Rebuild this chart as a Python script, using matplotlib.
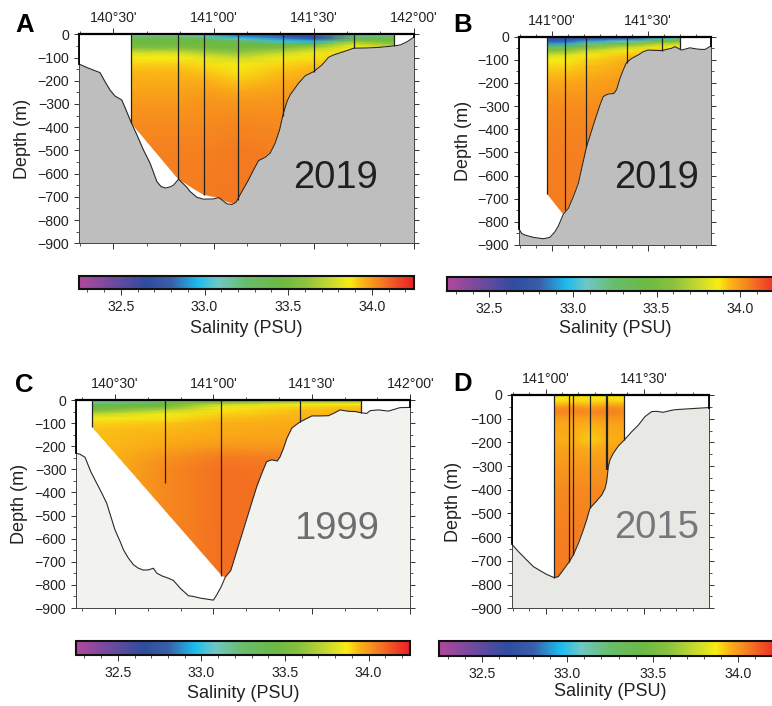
import matplotlib
matplotlib.use("Agg")
import matplotlib.pyplot as plt
from matplotlib.colors import LinearSegmentedColormap, Normalize
from matplotlib.cm import ScalarMappable
from matplotlib.patches import Polygon

plt.rcParams['font.family'] = ['Liberation Sans', 'DejaVu Sans']

W, H = 772, 706

# colour scale
cmap_vals = [32.25, 32.4, 32.65, 32.8, 32.96, 33.08, 33.25, 33.45, 33.6, 33.75, 33.87, 33.95, 34.05, 34.18, 34.25]
cmap_cols = ['#b0489c', '#7f4a9e', '#2f4c9f', '#3a5ea9', '#1cbcee', '#6fc7c5', '#68bd6a', '#6cb944',
             '#8cc13f', '#c6d92f', '#f7ec13', '#fbb116', '#f58020', '#ef3e26', '#ec2027']
cb_ticks = [32.5, 33.0, 33.5, 34.0]
cb_minor = [32.3, 32.4, 32.6, 32.7, 32.8, 32.9, 33.1, 33.2, 33.3, 33.4, 33.6, 33.7, 33.8, 33.9, 34.1, 34.2]

depth_ticks = [0, -100, -200, -300, -400, -500, -600, -700, -800, -900]
depth_minor = [-50, -150, -250, -350, -450, -550, -650, -750, -850]
levels = [0, 6, 12, 20, 30, 45, 60, 80, 100, 130, 160, 200, 250, 300, 400, 500, 900]

# panel A
a_bathy_lon = [140.328, 140.37, 140.433, 140.458, 140.483, 140.508, 140.542, 140.563, 140.587, 140.617, 140.65,
               140.683, 140.717, 140.738, 140.762, 140.783, 140.80, 140.825, 140.847, 140.867, 140.883, 140.917,
               140.95, 141.0, 141.025, 141.042, 141.067, 141.092, 141.113, 141.142, 141.175, 141.2, 141.225, 141.258,
               141.283, 141.308, 141.33, 141.347, 141.367, 141.383, 141.425, 141.458, 141.5, 141.542, 141.575, 141.6,
               141.65, 141.7, 141.767, 141.833, 141.9, 141.933, 141.967, 142.0]
a_bathy_dep = [-128, -144, -165, -204, -240, -266, -283, -326, -376, -433, -498, -555, -634, -656, -662, -657, -650,
               -624, -642, -659, -677, -702, -710, -709, -703, -713, -730, -733, -723, -677, -627, -584, -544, -530,
               -512, -469, -412, -347, -290, -261, -211, -179, -161, -132, -99, -89, -75, -60, -59, -56, -50, -46,
               -32, -13]
a_wedge_lon = [140.587, 140.825, 140.917, 140.95, 141.0, 141.025, 141.067, 141.10]
a_wedge_dep = [-383, -624, -675, -692, -702, -703, -722, -730]
a_st = [140.587, 140.825, 140.95, 141.12, 141.345, 141.5, 141.7, 141.9]
a_st_end = [-383, -624, -692, -713, -350, -161, -60, -50]
a_sal = [
    [33.05, 33.1, 33.3, 33.42, 33.45, 33.48, 33.58, 33.78, 33.87, 33.91, 33.94, 33.96, 33.98, 34.0, 34.03, 34.05, 34.06],
    [33.05, 33.12, 33.32, 33.43, 33.45, 33.48, 33.58, 33.78, 33.87, 33.91, 33.94, 33.96, 33.98, 34.0, 34.03, 34.05, 34.06],
    [32.95, 33.0, 33.15, 33.4, 33.44, 33.47, 33.5, 33.68, 33.82, 33.89, 33.92, 33.96, 33.99, 34.01, 34.03, 34.05, 34.07],
    [32.8, 32.85, 32.92, 33.05, 33.35, 33.44, 33.47, 33.62, 33.75, 33.86, 33.88, 33.92, 33.97, 34.01, 34.04, 34.06, 34.07],
    [32.72, 32.75, 32.8, 32.88, 33.0, 33.42, 33.55, 33.75, 33.85, 33.9, 33.93, 33.96, 33.99, 34.01, 34.03, 34.05, 34.06],
    [32.62, 32.62, 32.65, 32.7, 32.95, 33.42, 33.7, 33.84, 33.88, 33.92, 33.95, 33.98, 34.0, 34.02, 34.03, 34.05, 34.06],
    [32.85, 33.0, 33.25, 33.45, 33.6, 33.8, 33.87, 33.9, 33.92, 33.95, 33.97, 33.98, 34.0, 34.02, 34.03, 34.05, 34.06],
    [33.0, 33.1, 33.35, 33.43, 33.47, 33.62, 33.78, 33.9, 33.92, 33.95, 33.97, 33.98, 34.0, 34.02, 34.03, 34.05, 34.06],
]

# panel B
b_bathy_lon = [140.83, 140.844, 140.861, 140.905, 140.957, 140.991, 141.017, 141.035, 141.061, 141.087, 141.113,
               141.139, 141.182, 141.226, 141.252, 141.269, 141.283, 141.295, 141.325, 141.339, 141.356, 141.373,
               141.39, 141.417, 141.451, 141.477, 141.503, 141.573, 141.625, 141.642, 141.677, 141.72, 141.755,
               141.781, 141.799, 141.83]
b_bathy_dep = [-831, -850, -857, -867, -873, -867, -843, -818, -767, -742, -692, -634, -475, -360, -295, -259, -252,
               -248, -245, -228, -180, -144, -112, -94, -79, -65, -58, -60, -50, -43, -58, -48, -53, -55, -55, -40]
b_wedge_lon = [140.977, 141.061]
b_wedge_dep = [-680, -767]
b_st = [140.977, 141.071, 141.18, 141.392, 141.573, 141.668]
b_st_end = [-680, -750, -475, -112, -60, -52]
b_sal = [
    [32.7, 32.7, 32.72, 32.78, 32.9, 33.3, 33.55, 33.78, 33.87, 33.9, 33.93, 33.97, 34.0, 34.02, 34.04, 34.05, 34.06],
    [32.7, 32.7, 32.72, 32.78, 32.92, 33.32, 33.58, 33.8, 33.87, 33.9, 33.93, 33.97, 34.0, 34.02, 34.04, 34.05, 34.06],
    [32.7, 32.72, 32.8, 32.92, 33.2, 33.5, 33.72, 33.86, 33.9, 33.93, 33.95, 33.98, 34.0, 34.02, 34.04, 34.05, 34.06],
    [32.72, 32.78, 32.85, 33.1, 33.4, 33.72, 33.86, 33.92, 33.95, 33.97, 33.98, 34.0, 34.01, 34.02, 34.04, 34.05, 34.06],
    [32.75, 32.95, 33.2, 33.45, 33.68, 33.86, 33.92, 33.95, 33.97, 33.98, 33.99, 34.0, 34.01, 34.02, 34.04, 34.05, 34.06],
    [32.9, 33.1, 33.3, 33.5, 33.72, 33.87, 33.92, 33.95, 33.97, 33.98, 33.99, 34.0, 34.01, 34.02, 34.04, 34.05, 34.06],
]

# panel C
c_bathy_lon = [140.302, 140.323, 140.348, 140.377, 140.407, 140.433, 140.458, 140.5, 140.526, 140.543, 140.568, 140.594,
               140.619, 140.644, 140.67, 140.695, 140.712, 140.738, 140.771, 140.797, 140.831, 140.873, 140.898, 140.932,
               141.0, 141.017, 141.04, 141.06, 141.088, 141.152, 141.186, 141.22, 141.246, 141.27, 141.296, 141.325,
               141.339, 141.356, 141.373, 141.398, 141.423, 141.442, 141.5, 141.542, 141.584, 141.61, 141.643, 141.686,
               141.72, 141.748, 141.779, 141.796, 141.838, 141.889, 141.948, 142.0]
c_bathy_dep = [-230, -235, -248, -310, -360, -403, -447, -562, -612, -648, -684, -713, -728, -736, -735, -728, -749,
               -761, -771, -781, -814, -847, -850, -857, -866, -843, -807, -767, -738, -562, -468, -375, -317, -267,
               -259, -264, -245, -209, -166, -122, -105, -94, -69, -69, -68, -58, -43, -49, -50, -55, -58, -46, -43,
               -48, -33, -32]
c_wedge_lon = [140.385, 141.045]
c_wedge_dep = [-115, -763]
c_st = [140.385, 140.756, 141.04, 141.442, 141.75]
c_st_end = [-115, -360, -763, -94, -55]
c_sal = [
    [33.0, 33.0, 33.15, 33.4, 33.45, 33.5, 33.72, 33.86, 33.9, 33.93, 33.93, 33.93, 33.93, 33.93, 33.93, 33.93, 33.93],
    [33.05, 33.2, 33.4, 33.45, 33.5, 33.72, 33.85, 33.88, 33.92, 33.94, 33.95, 33.97, 34.01, 34.03, 34.03, 34.03, 34.04],
    [33.4, 33.45, 33.55, 33.75, 33.85, 33.88, 33.9, 33.93, 33.95, 33.96, 33.97, 34.0, 34.06, 34.08, 34.08, 34.08, 34.08],
    [33.45, 33.55, 33.72, 33.86, 33.9, 33.93, 33.94, 33.95, 33.96, 33.97, 33.98, 34.0, 34.05, 34.07, 34.08, 34.08, 34.08],
    [33.45, 33.6, 33.75, 33.87, 33.92, 33.94, 33.95, 33.96, 33.97, 33.98, 33.99, 34.0, 34.05, 34.07, 34.08, 34.08, 34.08],
]

# panel D
d_levels = [0, 10, 20, 30, 40, 50, 60, 75, 90, 120, 150, 190, 230, 300, 400, 550, 900]
d_bathy_lon = [140.828, 140.861, 140.903, 140.937, 140.971, 141.005, 141.044, 141.065, 141.09, 141.121, 141.141, 141.167,
               141.192, 141.209, 141.226, 141.257, 141.286, 141.303, 141.311, 141.32, 141.328, 141.345, 141.371, 141.401,
               141.439, 141.473, 141.507, 141.541, 141.566, 141.6, 141.634, 141.66, 141.736, 141.832]
d_bathy_dep = [-630, -661, -696, -724, -741, -757, -771, -766, -738, -703, -675, -626, -570, -527, -478, -450, -422,
               -394, -366, -302, -274, -246, -215, -190, -155, -127, -91, -70, -69, -73, -66, -62, -58, -53]
d_wedge_lon = []
d_wedge_dep = []
d_st = [141.044, 141.121, 141.139, 141.228, 141.315, 141.401]
d_st_end = [-771, -703, -675, -478, -316, -190]
d_sal = [
    [33.86, 33.85, 33.87, 33.9, 33.93, 33.99, 34.03, 34.04, 34.01, 33.97, 33.97, 33.96, 33.98, 34.0, 34.03, 34.05, 34.07],
    [33.89, 33.88, 33.89, 33.91, 33.95, 34.0, 34.03, 34.03, 34.0, 33.97, 33.96, 33.95, 33.98, 34.0, 34.03, 34.05, 34.07],
    [33.9, 33.89, 33.89, 33.91, 33.95, 34.0, 34.03, 34.03, 34.0, 33.97, 33.96, 33.95, 33.98, 34.0, 34.03, 34.05, 34.07],
    [33.89, 33.88, 33.88, 33.9, 33.93, 33.97, 34.0, 34.03, 34.0, 33.95, 33.93, 33.91, 33.96, 34.0, 34.03, 34.05, 34.07],
    [33.9, 33.88, 33.89, 33.92, 33.96, 34.01, 34.04, 34.05, 34.02, 33.98, 33.96, 33.95, 33.98, 34.0, 34.03, 34.05, 34.07],
    [33.9, 33.88, 33.88, 33.91, 33.95, 33.99, 34.01, 34.03, 34.01, 33.98, 33.97, 33.96, 33.98, 34.0, 34.03, 34.05, 34.07],
]

cmap = LinearSegmentedColormap.from_list(
    'sal', [((v - 32.25) / 2.0, c) for v, c in zip(cmap_vals, cmap_cols)], N=512)
norm = Normalize(32.25, 34.25)

fig = plt.figure(figsize=(W / 100, H / 100), dpi=100)


def px_axes(left, top, right, bottom):
    return fig.add_axes([left / W, 1 - bottom / H, (right - left) / W, (bottom - top) / H])


def panel(box, label_x, xlim, lon_ticks, lon_labels, lon_minor, bathy_lon, bathy_dep, fill, wedge_lon, wedge_dep, st,
          st_end, sal, lev, thick=None):
    ax = px_axes(*box)
    ax.set_xlim(*xlim)
    ax.set_ylim(-900, 0)
    # salinity section, cut along the wedge and then the sea floor
    mesh = ax.pcolormesh(st, [-d for d in lev], list(zip(*sal)), cmap=cmap, norm=norm, shading='gouraud', zorder=1)
    start = wedge_lon[-1] if wedge_lon else st[0] - 0.001
    floor = [(x, y) for x, y in zip(bathy_lon, bathy_dep) if start < x < st[-1]]
    outline = [(st[0], 0)] + list(zip(wedge_lon, wedge_dep)) + floor + [(st[-1], st_end[-1]), (st[-1], 0)]
    mesh.set_clip_path(Polygon(outline, closed=True, transform=ax.transData))
    ax.fill_between(bathy_lon, bathy_dep, -900, color=fill, lw=0, zorder=2)
    ax.plot(bathy_lon, bathy_dep, color='#2a2a2a', lw=0.8, zorder=3)
    for i, (s, e) in enumerate(zip(st, st_end)):
        w = 0.9
        if thick is not None and i == thick:
            w = 1.6
        ax.plot([s, s], [0, e], color='#222222', lw=w, zorder=4, solid_capstyle='butt')
    ax.set_xticks(lon_ticks)
    ax.set_xticklabels(lon_labels)
    ax.set_xticks(lon_minor, minor=True)
    ax.set_yticks(depth_ticks)
    ax.set_yticklabels([str(d).replace('-', '\u2212') for d in depth_ticks])
    ax.set_yticks(depth_minor, minor=True)
    ax.tick_params(axis='x', which='major', top=True, bottom=True, labeltop=True, labelbottom=False, length=4.5,
                   width=0.7, labelsize=10.2, pad=2, color='#333333', labelcolor='#222222')
    ax.tick_params(axis='x', which='minor', top=True, bottom=True, length=2, width=0.6, color='#333333')
    ax.tick_params(axis='y', which='major', left=True, right=True, length=3.5, width=0.7, labelsize=10.2, pad=3.5,
                   color='#333333', labelcolor='#222222')
    ax.tick_params(axis='y', which='minor', left=True, right=True, length=2, width=0.6, color='#333333')
    ax.set_ylabel('Depth (m)', fontsize=13, color='#222222')
    ax.yaxis.set_label_coords((label_x - box[0]) / (box[2] - box[0]), 0.5)
    ax.spines['top'].set_linewidth(1.6)
    for name in ['left', 'right', 'bottom']:
        ax.spines[name].set_linewidth(0.7)
        ax.spines[name].set_color('#444444')
    ax.plot([xlim[0], xlim[0]], [0, max(bathy_dep[0], -900)], color='black', lw=1.3, zorder=5, clip_on=False)
    ax.plot([xlim[1], xlim[1]], [0, bathy_dep[-1]], color='black', lw=1.3, zorder=5, clip_on=False)
    return ax


def colorbar(left, top, right, bottom):
    cax = px_axes(left, top, right, bottom)
    cb = fig.colorbar(ScalarMappable(norm=norm, cmap=cmap), cax=cax, orientation='horizontal')
    cb.set_ticks(cb_ticks)
    cb.set_ticklabels(['32.5', '33.0', '33.5', '34.0'])
    cb.ax.set_xticks(cb_minor, minor=True)
    cb.ax.tick_params(axis='x', which='major', length=4, width=0.7, labelsize=10.2, pad=4, color='#333333',
                      labelcolor='#222222')
    cb.ax.tick_params(axis='x', which='minor', length=2, width=0.6, color='#333333')
    cb.outline.set_linewidth(1.5)
    cb.outline.set_edgecolor('#111111')


def ftext(x, y, s, **kw):
    fig.text(x / W, 1 - y / H, s, **kw)


min_a = [140.333, 140.667, 140.833, 141.167, 141.333, 141.667, 141.833]
min_b = [140.833, 140.917, 141.083, 141.167, 141.25, 141.333, 141.417, 141.583, 141.667, 141.75]
panel((79, 34.3, 413.7, 243.3), 31.5, (140.328, 142.0), [140.5, 141.0, 141.5, 142.0],
      ["140\u00b030'", "141\u00b000'", "141\u00b030'", "142\u00b000'"], min_a,
      a_bathy_lon, a_bathy_dep, '#bebebe', a_wedge_lon, a_wedge_dep, a_st, a_st_end, a_sal, levels)
panel((519, 36.7, 711, 245), 471.5, (140.83, 141.83), [141.0, 141.5], ["141\u00b000'", "141\u00b030'"], min_b,
      b_bathy_lon, b_bathy_dep, '#bebebe', b_wedge_lon, b_wedge_dep, b_st, b_st_end, b_sal, levels)
panel((76, 400, 410.3, 608), 28, (140.302, 142.0), [140.5, 141.0, 141.5, 142.0],
      ["140\u00b030'", "141\u00b000'", "141\u00b030'", "142\u00b000'"], min_a,
      c_bathy_lon, c_bathy_dep, '#f2f2ee', c_wedge_lon, c_wedge_dep, c_st, c_st_end, c_sal, levels)
panel((512, 395, 708.7, 608.3), 462, (140.828, 141.832), [141.0, 141.5], ["141\u00b000'", "141\u00b030'"], min_b,
      d_bathy_lon, d_bathy_dep, '#e8e8e4', d_wedge_lon, d_wedge_dep, d_st, d_st_end, d_sal, d_levels, thick=4)

colorbar(79, 276, 413.7, 289.3)
colorbar(447.5, 277, 782, 291)
colorbar(76, 640.7, 410.3, 654.7)
colorbar(439, 641, 781, 655.7)

ftext(246, 333, 'Salinity (PSU)', fontsize=13, ha='center', va='baseline', color='#222222')
ftext(615, 333, 'Salinity (PSU)', fontsize=13, ha='center', va='baseline', color='#222222')
ftext(243, 698, 'Salinity (PSU)', fontsize=13, ha='center', va='baseline', color='#222222')
ftext(610, 696, 'Salinity (PSU)', fontsize=13, ha='center', va='baseline', color='#222222')

ftext(15, 32, 'A', fontsize=18.5, fontweight='bold', color='black')
ftext(453, 32, 'B', fontsize=18.5, fontweight='bold', color='black')
ftext(15, 392, 'C', fontsize=18.5, fontweight='bold', color='black')
ftext(453, 391, 'D', fontsize=18.5, fontweight='bold', color='black')

ftext(293, 188, '2019', fontsize=27.5, color='#231f20', zorder=10)
ftext(614, 188, '2019', fontsize=27.5, color='#231f20', zorder=10)
ftext(294, 539, '1999', fontsize=27.5, color='#6d6e71', zorder=10)
ftext(614, 538, '2015', fontsize=27.5, color='#77787b', zorder=10)

fig.savefig('out.png', dpi=100)
